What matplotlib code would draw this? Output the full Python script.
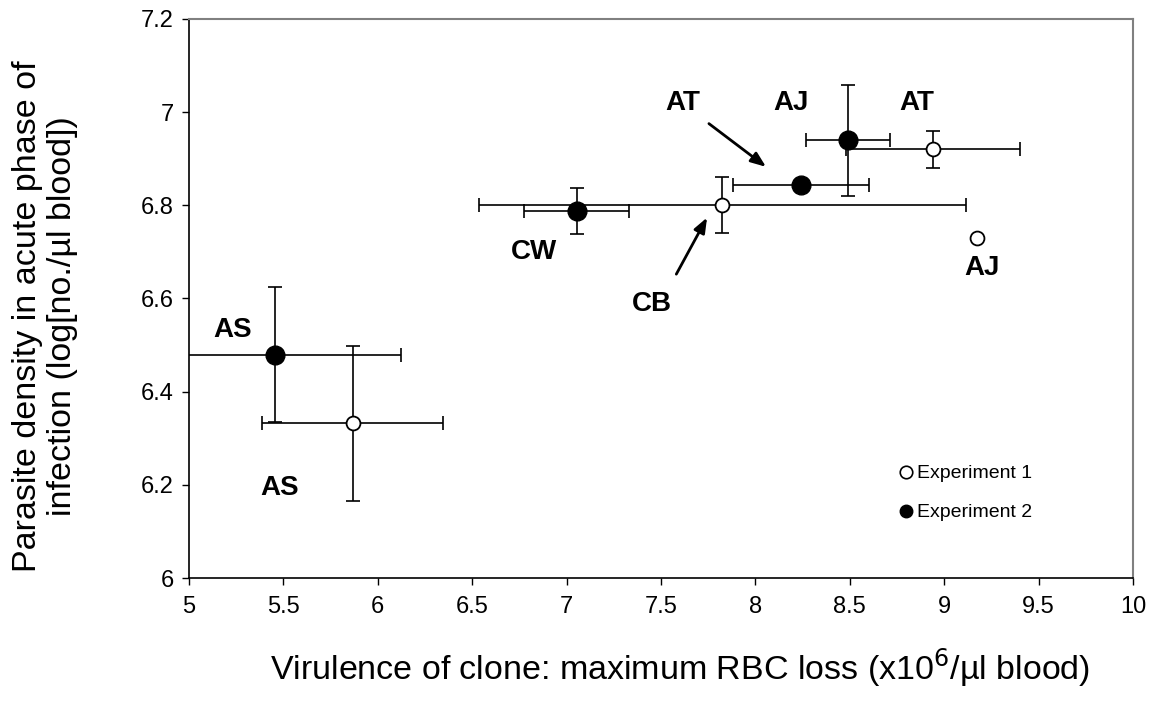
import matplotlib
matplotlib.use('Agg')
import matplotlib.pyplot as plt
from matplotlib.ticker import FuncFormatter
from matplotlib.lines import Line2D
import numpy as np

plt.rcParams['font.family'] = ['Liberation Sans', 'DejaVu Sans']

# Experiment 1 (open circles): AS, CB, AT, AJ
exp1_clone = ['AS', 'CB', 'AT', 'AJ']
exp1_x = [5.867, 7.825, 8.942, 9.174]
exp1_y = [6.332, 6.800, 6.920, 6.730]
exp1_xerr = [0.478, 1.29, 0.46, 0.0]
exp1_yerr = [0.167, 0.060, 0.039, 0.0]

# Experiment 2 (filled circles): AS, CW, AT, AJ
exp2_clone = ['AS', 'CW', 'AT', 'AJ']
exp2_x = [5.455, 7.053, 8.240, 8.492]
exp2_y = [6.479, 6.788, 6.843, 6.940]
exp2_xerr = [0.668, 0.28, 0.36, 0.223]
exp2_yerr = [0.145, 0.050, 0.0, 0.119]

# clone labels (text, x, y)
label_text = ['AS', 'AS', 'CW', 'CB', 'AT', 'AJ', 'AT', 'AJ']
label_x = [5.233, 5.482, 6.827, 7.452, 7.616, 8.19, 8.855, 9.20]
label_y = [6.532, 6.193, 6.699, 6.588, 7.019, 7.019, 7.019, 6.665]

fig = plt.figure(figsize=(11.53, 7.06), dpi=100)
ax = fig.add_axes([0.1639, 0.1813, 0.8188, 0.7918])

ebkw = dict(fmt='none', ecolor='black', elinewidth=1.2, capsize=5, capthick=1.2)
ax.errorbar(exp2_x, exp2_y, xerr=exp2_xerr, yerr=exp2_yerr, zorder=2, **ebkw)
ax.errorbar(exp1_x, exp1_y, xerr=exp1_xerr, yerr=exp1_yerr, zorder=2, **ebkw)
ax.plot(exp2_x, exp2_y, 'o', ms=13.5, mfc='black', mec='black', zorder=4)
ax.plot(exp1_x, exp1_y, 'o', ms=10, mfc='white', mec='black', mew=1.3, zorder=4)

for t, x, y in zip(label_text, label_x, label_y):
    ax.text(x, y, t, ha='center', va='center', fontsize=20, fontweight='bold')

# arrows
ax.annotate('', xy=(8.068, 6.879), xytext=(7.742, 6.979),
            arrowprops=dict(arrowstyle='-|>,head_length=0.9,head_width=0.35',
                            color='black', lw=2))
ax.annotate('', xy=(7.751, 6.779), xytext=(7.574, 6.647),
            arrowprops=dict(arrowstyle='-|>,head_length=0.9,head_width=0.35',
                            color='black', lw=2))

ax.set_xlim(5, 10)
ax.set_ylim(6, 7.2)
ax.set_xticks(np.arange(5, 10.01, 0.5))
ax.set_yticks(np.arange(6, 7.21, 0.2))
ax.xaxis.set_major_formatter(FuncFormatter(lambda v, p: f'{v:g}'))
ax.yaxis.set_major_formatter(FuncFormatter(lambda v, p: f'{round(v, 1):g}'))
ax.tick_params(direction='out', length=5, width=1, labelsize=17, pad=6)
ax.tick_params(axis='x', pad=8)
for s in ('top', 'right'):
    ax.spines[s].set_color('#808080')
    ax.spines[s].set_linewidth(1.5)
for s in ('left', 'bottom'):
    ax.spines[s].set_linewidth(1.2)

ax.set_xlabel('Virulence of clone: maximum RBC loss (x10$^{6}$/µl blood)',
              fontsize=24.5)
ax.set_ylabel('Parasite density in acute phase of\ninfection (log[no./µl blood])',
              fontsize=24.5, linespacing=1.15)
ax.xaxis.set_label_coords(0.52, -0.122)
ax.yaxis.set_label_coords(-0.118, 0.468)

handles = [Line2D([], [], ls='none', marker='o', ms=9, mfc='white', mec='black', mew=1.2),
           Line2D([], [], ls='none', marker='o', ms=9, mfc='black', mec='black')]
ax.legend(handles, ['Experiment 1', 'Experiment 2'], loc='lower right',
          bbox_to_anchor=(0.912, 0.07), frameon=False, fontsize=14,
          handletextpad=0.1, handlelength=1.0, labelspacing=1.1)

fig.savefig('out.png', dpi=100)
